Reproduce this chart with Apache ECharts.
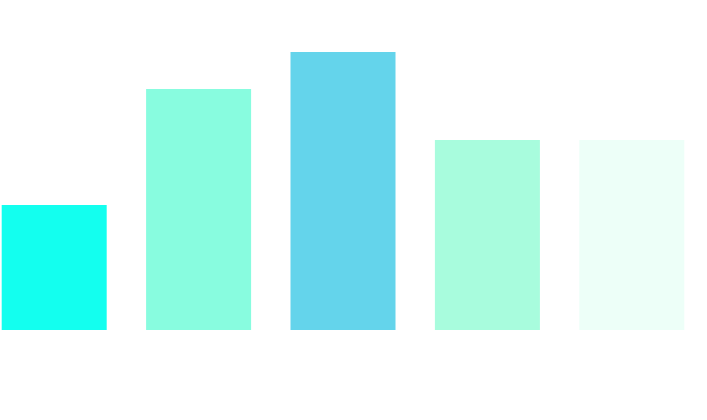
<!DOCTYPE html>
<html>
<head>
<meta charset="utf-8">
<script src="https://cdn.jsdelivr.net/npm/echarts@6/dist/echarts.min.js"></script>
<style>
  html, body { margin: 0; padding: 0; background: #fff; }
  #chart { width: 707px; height: 420px; }
</style>
</head>
<body>
<div id="chart"></div>
<script>
const categories = ['A', 'B', 'C', 'D', 'E'];
const values = [125, 241, 278, 190, 190];
const colors = ['#13FFEF', '#88FCDF', '#64D4EB', '#A8FCDD', '#EDFFF8'];

const myChart = echarts.init(document.getElementById('chart'));
const option = {
  backgroundColor: '#fff',
  animation: false,
  grid: {
    left: -18,
    width: 722,
    top: 30,
    bottom: 90,
    outerBoundsMode: 'none',
  },
  xAxis: {
    type: 'category',
    data: categories,
    show: false,
  },
  yAxis: {
    type: 'value',
    min: 0,
    max: 300,
    show: false,
  },
  series: [
    {
      type: 'bar',
      barWidth: 105,
      data: values.map((v, i) => ({ value: v, itemStyle: { color: colors[i] } })),
    },
  ],
};
myChart.setOption(option);
window.addEventListener('resize', () => myChart.resize());
</script>
</body>
</html>
